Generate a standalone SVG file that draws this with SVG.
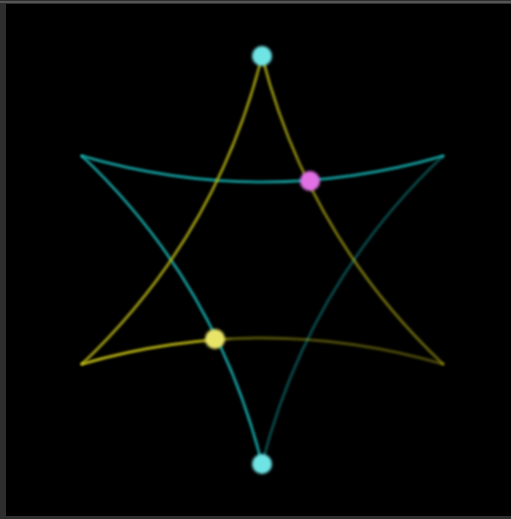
<svg xmlns="http://www.w3.org/2000/svg" width="511" height="519" viewBox="0 0 511 519">
  <defs>
    <filter id="soft" x="-50%" y="-50%" width="200%" height="200%">
      <feGaussianBlur stdDeviation="0.8"/>
    </filter>
    <filter id="glow" x="-50%" y="-50%" width="200%" height="200%">
      <feGaussianBlur stdDeviation="1.5"/>
    </filter>
    <linearGradient id="ybot" gradientUnits="userSpaceOnUse" x1="82" y1="0" x2="443" y2="0">
      <stop offset="0" stop-color="#b4b014" stop-opacity="0.95"/>
      <stop offset="0.36" stop-color="#b4b014" stop-opacity="0.9"/>
      <stop offset="0.42" stop-color="#b4b014" stop-opacity="0.45"/>
      <stop offset="1" stop-color="#b4b014" stop-opacity="0.38"/>
    </linearGradient>
    <linearGradient id="yright" gradientUnits="userSpaceOnUse" x1="0" y1="56" x2="0" y2="364">
      <stop offset="0" stop-color="#b4b014" stop-opacity="0.8"/>
      <stop offset="1" stop-color="#b4b014" stop-opacity="0.5"/>
    </linearGradient>
  </defs>
  <style>
    .edge { fill: none; stroke-width: 3; stroke-linecap: round; filter: url(#soft); }
    .teal { stroke: #18a0a0; }
    .yel { stroke: #b4b014; }
    .dot { filter: url(#glow); }
  </style>
  <rect x="0" y="0" width="511" height="519" fill="#2e2e2e"/>
  <rect x="0" y="1" width="511" height="2" fill="#555555"/>
  <rect x="6" y="4" width="505" height="512" fill="#000000"/>

  <g id="connectors">
    <path class="edge teal" d="M82,156 Q262.5,208 443,156" opacity="0.88"/>
    <path class="edge teal" d="M82,156 Q216.9,283.7 262,464" opacity="0.88"/>
    <path class="edge teal" d="M443,156 Q308.1,283.7 262,464" opacity="0.42"/>
    <path class="edge yel" d="M262,56 Q216.9,236.3 82,364" opacity="0.8"/>
    <path class="edge" d="M262,56 Q308.1,236.3 443,364" stroke="url(#yright)"/>
    <path class="edge" d="M82,364 Q262.5,312 443,364" stroke="url(#ybot)"/>
  </g>

  <g id="node-top">
    <circle class="dot" cx="262" cy="56" r="10" fill="#6ee4e4"/>
  </g>
  <g id="node-bottom">
    <circle class="dot" cx="262" cy="464" r="10" fill="#6ee4e4"/>
  </g>
  <g id="node-magenta">
    <circle class="dot" cx="310" cy="181" r="10" fill="#e070e4"/>
  </g>
  <g id="node-yellow">
    <circle class="dot" cx="215" cy="339" r="10" fill="#e8e468"/>
  </g>
</svg>
